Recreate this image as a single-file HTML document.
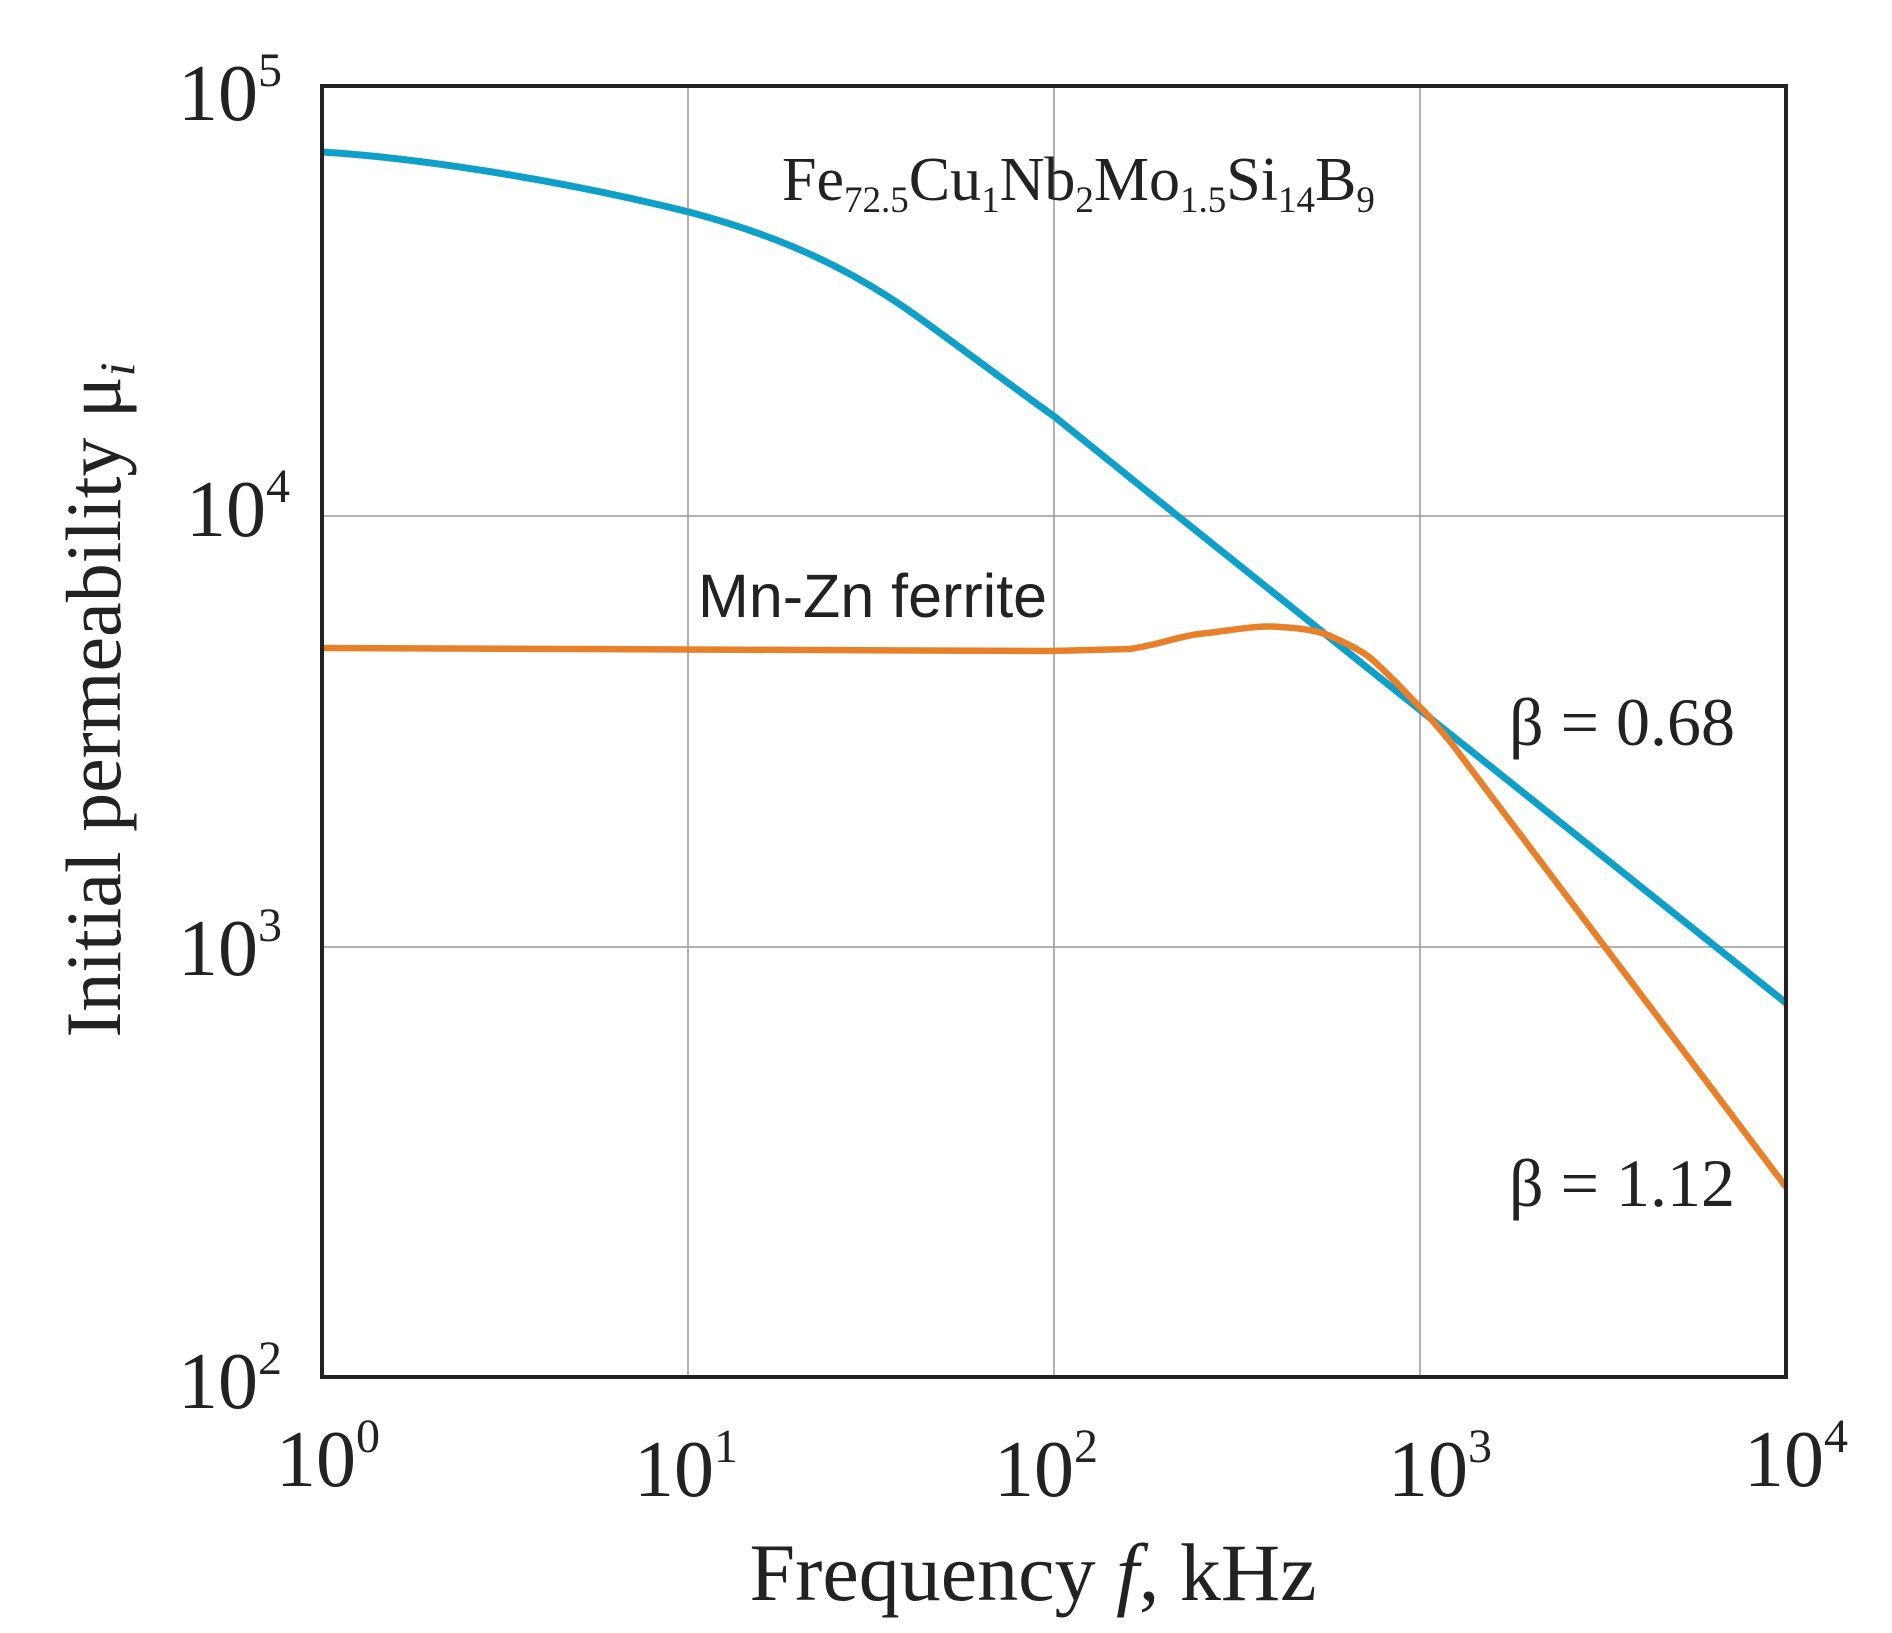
<!DOCTYPE html>
<html><head><style>html,body{margin:0;padding:0;background:#fff;}</style></head>
<body>
<svg width="1892" height="1628" xmlns="http://www.w3.org/2000/svg" font-family="Liberation Serif, serif">
<rect width="1892" height="1628" fill="#fff"/>
<g stroke="#999" stroke-width="1.5">
<line x1="688" y1="86" x2="688" y2="1377"/>
<line x1="1054" y1="86" x2="1054" y2="1377"/>
<line x1="1420" y1="86" x2="1420" y2="1377"/>
<line x1="322" y1="516" x2="1786" y2="516"/>
<line x1="322" y1="947" x2="1786" y2="947"/>
</g>
<path d="M322,152 C420,158 560,180 689,212 C780,236 850,268 918,317 C975,358 1010,385 1055,417 L1159,501 L1786,1003" fill="none" stroke="#0ea0c8" stroke-width="7"/>
<path d="M322,648 L1051,651 L1129,649 C1160,645 1180,635 1208,633 C1240,629 1260,625 1280,627 C1300,628 1315,630 1328,635 C1350,645 1365,652 1376,663 C1400,685 1412,700 1425,712 C1440,730 1450,740 1461,756 L1786,1187" fill="none" stroke="#e8802a" stroke-width="6.5"/>
<rect x="322" y="86" width="1464" height="1291" fill="none" stroke="#222" stroke-width="4"/>
<g font-size="80" fill="#222">
<text x="178" y="120">10<tspan font-size="48" dy="-34">5</tspan></text>
<text x="186" y="536">10<tspan font-size="48" dy="-34">4</tspan></text>
<text x="178" y="975">10<tspan font-size="48" dy="-34">3</tspan></text>
<text x="178" y="1408">10<tspan font-size="48" dy="-34">2</tspan></text>
<text x="276" y="1486">10<tspan font-size="48" dy="-34">0</tspan></text>
<text x="634" y="1496">10<tspan font-size="48" dy="-34">1</tspan></text>
<text x="994" y="1496">10<tspan font-size="48" dy="-34">2</tspan></text>
<text x="1388" y="1496">10<tspan font-size="48" dy="-34">3</tspan></text>
<text x="1744" y="1486">10<tspan font-size="48" dy="-34">4</tspan></text>
</g>
<text x="1033" y="1600" font-size="82" text-anchor="middle" fill="#222">Frequency <tspan font-style="italic">f</tspan>, kHz</text>
<text transform="translate(120,700) rotate(-90)" font-size="78" text-anchor="middle" fill="#222">Initial permeability μ<tspan font-style="italic" font-size="50" dy="14">i</tspan></text>
<text x="782" y="200" font-size="62" fill="#222">Fe<tspan font-size="37" dy="12">72.5</tspan><tspan dy="-12">Cu</tspan><tspan font-size="37" dy="12">1</tspan><tspan dy="-12">Nb</tspan><tspan font-size="37" dy="12">2</tspan><tspan dy="-12">Mo</tspan><tspan font-size="37" dy="12">1.5</tspan><tspan dy="-12">Si</tspan><tspan font-size="37" dy="12">14</tspan><tspan dy="-12">B</tspan><tspan font-size="37" dy="12">9</tspan></text>
<text x="698" y="617" font-size="61" font-family="Liberation Sans, sans-serif" fill="#222">Mn-Zn ferrite</text>
<text x="1509" y="745" font-size="68" fill="#222">β = 0.68</text>
<text x="1509" y="1206" font-size="68" fill="#222">β = 1.12</text>
</svg>
</body></html>
